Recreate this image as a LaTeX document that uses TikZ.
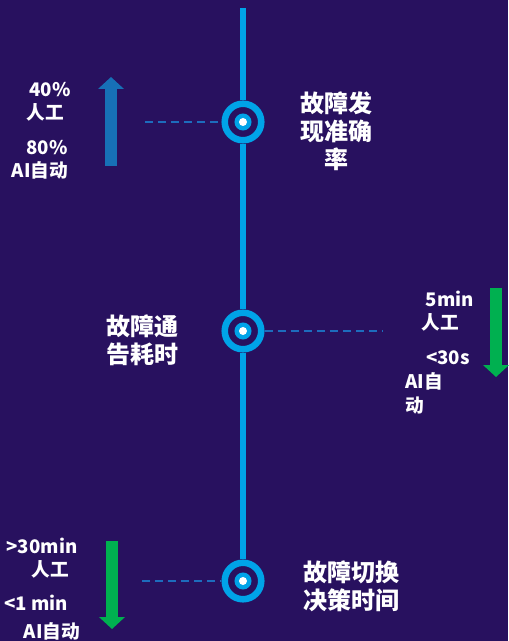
\documentclass[tikz,border=0pt]{standalone}
\usepackage{fontspec}
\newfontfamily\cjk{Noto Sans CJK SC}
\usetikzlibrary{arrows.meta}
\definecolor{bgdark}{HTML}{28115F}
\definecolor{axisblue}{HTML}{00A3E8}
\definecolor{dashblue}{HTML}{1D6CBD}
\definecolor{upblue}{HTML}{1770B6}
\definecolor{downgreen}{HTML}{00B050}
\begin{document}
\begin{tikzpicture}[x=0.75pt,y=-0.75pt,
    ring/.style={circle, draw=axisblue, line width=4.9pt, fill=bgdark, minimum size=27.4pt, inner sep=0pt},
    core/.style={circle, fill=axisblue, minimum size=12.8pt, inner sep=0pt},
    dot/.style={circle, fill=white, minimum size=6pt, inner sep=0pt},
    big/.style={text=white, align=center, inner sep=0pt, font=\cjk\bfseries\fontsize{18}{21}\selectfont},
    small/.style={text=white, align=center, inner sep=0pt, font=\cjk\bfseries\fontsize{14}{17}\selectfont},
    guide/.style={dashblue, line width=1.5pt, dash pattern=on 6pt off 3.8pt},
    bar/.style={line width=8.5pt, -{Triangle[width=19pt,length=9pt]}}]

  \fill[bgdark] (0,0) rectangle (508,641);

  % axis with three points
  \coordinate (top) at (243,8);
  \begin{scope}[every node/.style={ring}]
    \node (1) at (243,122) {};
    \node (2) at (243,331) {};
    \node (3) at (243,581) {};
  \end{scope}
  \draw[axisblue, line width=4.3pt] (top) -- (1) (1) -- (2) (2) -- (3);
  \foreach \n in {1,2,3} {
    \node[core] at (\n) {};
    \node[dot] at (\n) {};
  }

  % dashed guides
  \coordinate (g1) at (145,122);
  \coordinate (g2) at (383,331);
  \coordinate (g3) at (142,581);
  \draw[guide] (g1) -- (1.west);
  \draw[guide] (2.east) -- (g2);
  \draw[guide] (g3) -- (3.west);

  % arrows
  \coordinate (a1) at (111,166);
  \coordinate (b1) at (111,77);
  \coordinate (a2) at (496,288);
  \coordinate (b2) at (496,377);
  \coordinate (a3) at (112,541);
  \coordinate (b3) at (112,629);
  \draw[bar, upblue] (a1) -- (b1);
  \draw[bar, downgreen] (a2) -- (b2);
  \draw[bar, downgreen] (a3) -- (b3);

  % titles
  \node[big] (t1) at (336,131) {故障发\\现准确\\率};
  \node[big] (t2) at (142,340) {故障通\\告耗时};
  \node[big] (t3) at (351,586) {故障切换\\决策时间};

  % values
  \begin{scope}[every node/.style={small}]
    \node (v1) at (50,90) {40\%};
    \node (v2) at (45,112) {人工};
    \node (v3) at (47,148) {80\%};
    \node (v4) at (40,170) {AI自动};
    \node (v5) at (450,299) {5min};
    \node (v6) at (440,322) {人工};
    \node (v7) at (448,358) {<30s};
    \node[align=left, anchor=west, font=\cjk\bfseries\fontsize{14}{18}\selectfont] (v8) at (405,393) {AI自\\动};
    \node (v9) at (42,546) {>30min};
    \node (v10) at (50,569) {人工};
    \node (v11) at (36,603) {<1 min};
    \node (v12) at (52,631) {AI自动};
  \end{scope}

\end{tikzpicture}
\end{document}
